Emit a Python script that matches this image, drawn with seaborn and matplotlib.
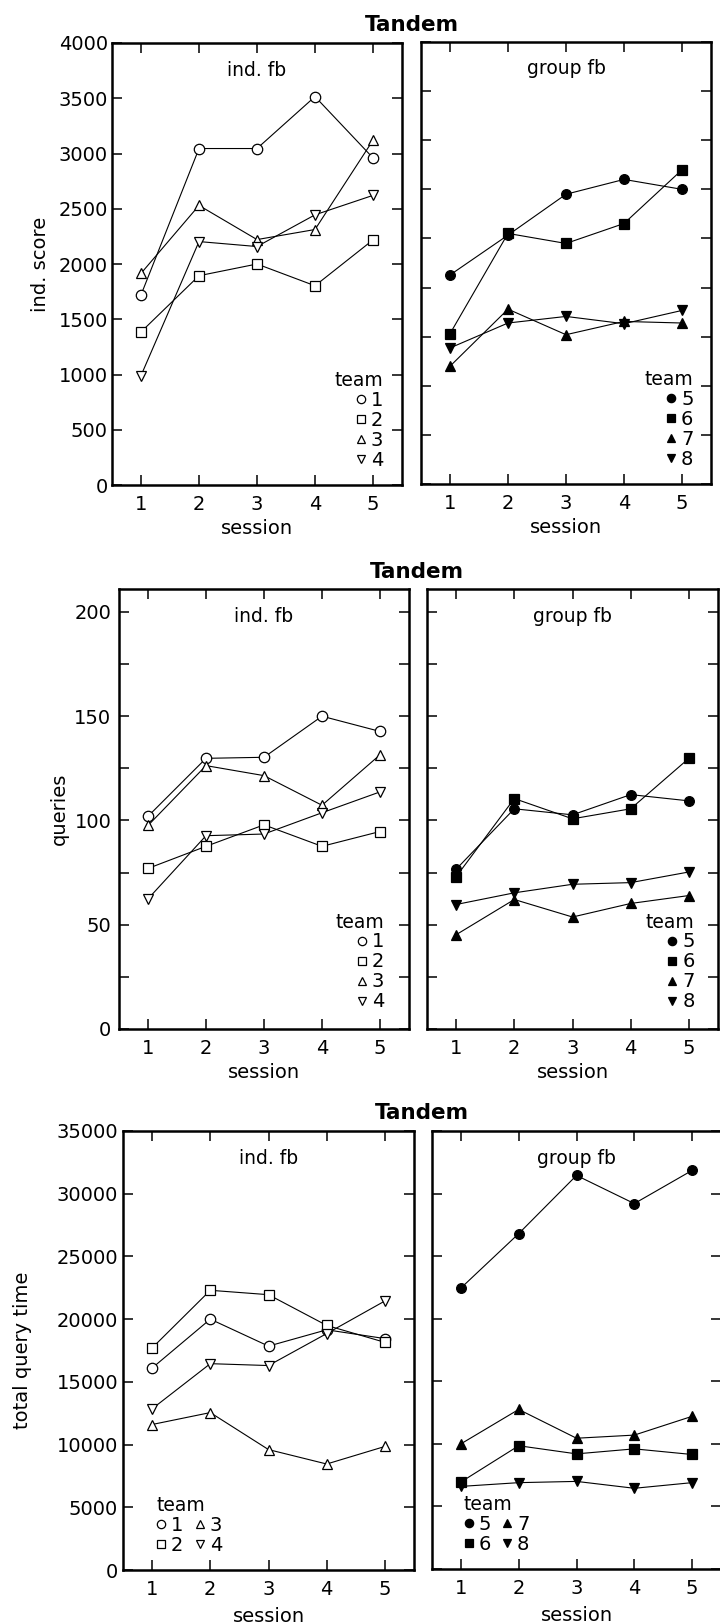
import pandas as pd
import matplotlib
matplotlib.use("Agg")
import matplotlib.pyplot as plt
import seaborn as sns
from matplotlib.lines import Line2D
from matplotlib.ticker import MultipleLocator

sns.set_style("ticks")
plt.rcParams['font.family'] = ['DejaVu Sans']
plt.rcParams['text.color'] = 'black'
plt.rcParams['axes.labelcolor'] = 'black'

sessions = [1, 2, 3, 4, 5]
teams_ind = ["1", "2", "3", "4"]
teams_grp = ["5", "6", "7", "8"]

# ind. score
score_1 = [1720, 3045, 3045, 3515, 2960]
score_2 = [1385, 1894, 2000, 1803, 2218]
score_3 = [1915, 2530, 2221, 2312, 3120]
score_4 = [990, 2203, 2158, 2445, 2621]
# group fb panel has its own (unlabelled) scale, 0-4500
score_5 = [2128, 2534, 2950, 3101, 3000]
score_6 = [1530, 2551, 2449, 2652, 3199]
score_7 = [1199, 1780, 1520, 1655, 1639]
score_8 = [1385, 1639, 1706, 1632, 1767]

# queries
queries_1 = [102, 129.8, 130.3, 150, 142.7]
queries_2 = [77, 87.6, 97.9, 87.6, 94.7]
queries_3 = [97.6, 126.3, 121.5, 107.3, 131.5]
queries_4 = [62.4, 92.7, 93.5, 103.7, 113.7]
queries_5 = [76.6, 105.6, 102.7, 112.4, 109.4]
queries_6 = [73, 110.5, 100.8, 105.6, 129.8]
queries_7 = [45.2, 62.1, 53.7, 60.2, 64]
queries_8 = [59.7, 65.3, 69.4, 70.2, 75.3]

# total query time
qtime_1 = [16100, 20000, 17850, 19150, 18450]
qtime_2 = [17700, 22300, 21950, 19500, 18150]
qtime_3 = [11600, 12550, 9600, 8450, 9850]
qtime_4 = [12850, 16450, 16300, 18850, 21450]
qtime_5 = [22450, 26800, 31450, 29200, 31850]
qtime_6 = [6950, 9850, 9200, 9600, 9150]
qtime_7 = [10000, 12750, 10450, 10700, 12200]
qtime_8 = [6600, 6900, 7000, 6450, 6900]

markers = {"1": "o", "2": "s", "3": "^", "4": "v",
           "5": "o", "6": "s", "7": "^", "8": "v"}


def long_df(teams, series):
    rows = []
    for t, vals in zip(teams, series):
        for s, v in zip(sessions, vals):
            rows.append({"session": s, "team": t, "value": v})
    return pd.DataFrame(rows)


W, H = 720, 1623
fig = plt.figure(figsize=(W / 100, H / 100), dpi=100)


def box(x0, y_top, w, h):
    return [x0 / W, 1 - (y_top + h) / H, w / W, h / H]


def draw(ax, df, teams, filled, ylim, major, minor, show_labels, ylabel=None,
         label_x=None, ypad=3.5, legend_anchor=None, legend_loc="lower right",
         ncol=1, align="right", xlabelpad=4):
    face = "black" if filled else "white"
    sns.lineplot(data=df, x="session", y="value", style="team", style_order=teams,
                 markers=markers, dashes=False, color="black", linewidth=0.8,
                 markersize=7.5 if not filled else 7, mfc=face, mec="black", mew=0.9,
                 legend=False, ax=ax, sort=True)
    ax.set_xlim(0.5, 5.5)
    ax.set_ylim(*ylim)
    ax.set_xticks(sessions)
    ax.yaxis.set_major_locator(MultipleLocator(major))
    if minor:
        ax.yaxis.set_minor_locator(MultipleLocator(minor))
    ax.tick_params(which="both", direction="in", top=True, right=True,
                   length=7, width=1.1, labelsize=14, colors="black")
    ax.tick_params(axis="x", pad=7)
    ax.tick_params(axis="y", pad=ypad, labelleft=show_labels)
    for sp in ax.spines.values():
        sp.set_linewidth(1.8)
        sp.set_color("black")
    ax.set_xlabel("session", fontsize=14, labelpad=xlabelpad)
    if ylabel:
        ax.set_ylabel(ylabel, fontsize=14)
        ax.yaxis.set_label_coords(label_x, 0.5)
    else:
        ax.set_ylabel("")
    handles = [Line2D([], [], linestyle="none", marker=markers[t], markersize=6,
                      mfc=face, mec="black", mew=0.9) for t in teams]
    leg = ax.legend(handles, teams, title="team", loc=legend_loc,
                    bbox_to_anchor=legend_anchor, frameon=False, ncol=ncol,
                    handlelength=0.5, handletextpad=0.25, labelspacing=0.05,
                    columnspacing=0.6, borderpad=0, borderaxespad=0,
                    fontsize=14, title_fontsize=13.5, alignment=align)
    return leg


def subtitle(ax, text):
    ax.text(0.5, 1 - 27 / ax.bbox.height * (fig.dpi / 100), text,
            transform=ax.transAxes, ha="center", va="center", fontsize=13.5)


# panel 1: ind. score
ax1 = fig.add_axes(box(112, 43, 290, 442))
ax2 = fig.add_axes(box(421, 42, 290, 442))
draw(ax1, long_df(teams_ind, [score_1, score_2, score_3, score_4]), teams_ind, False,
     (0, 4000), 500, None, True, "ind. score", -0.213, 3,
     legend_anchor=(0.935, 0.034))
draw(ax2, long_df(teams_grp, [score_5, score_6, score_7, score_8]), teams_grp, True,
     (0, 4500), 500, None, False, legend_anchor=(0.94, 0.034))

# panel 2: queries
ax3 = fig.add_axes(box(119, 589, 290, 440))
ax4 = fig.add_axes(box(427, 589, 291, 440))
draw(ax3, long_df(teams_ind, [queries_1, queries_2, queries_3, queries_4]), teams_ind, False,
     (0, 211), 50, 25, True, "queries", -0.173, 5.5,
     legend_anchor=(0.915, 0.04))
draw(ax4, long_df(teams_grp, [queries_5, queries_6, queries_7, queries_8]), teams_grp, True,
     (0, 211), 25, None, False, legend_anchor=(0.92, 0.04))

# panel 3: total query time
ax5 = fig.add_axes(box(123, 1131, 291, 439))
ax6 = fig.add_axes(box(432, 1131, 289, 438))
draw(ax5, long_df(teams_ind, [qtime_1, qtime_2, qtime_3, qtime_4]), teams_ind, False,
     (0, 35000), 5000, None, True, "total query time", -0.313, 3.5,
     legend_anchor=(0.115, 0.034), legend_loc="lower left", ncol=2, align="left",
     xlabelpad=6)
draw(ax6, long_df(teams_grp, [qtime_5, qtime_6, qtime_7, qtime_8]), teams_grp, True,
     (0, 35000), 5000, None, False,
     legend_anchor=(0.11, 0.034), legend_loc="lower left", ncol=2, align="left",
     xlabelpad=6)

for ax in (ax1, ax3, ax5):
    subtitle(ax, "ind. fb")
for ax in (ax2, ax4, ax6):
    subtitle(ax, "group fb")

for x, y in [(412, 25), (417, 572), (422, 1113)]:
    fig.text(x / W, 1 - y / H, "Tandem", ha="center", va="center",
             fontsize=15.5, fontweight="bold")

fig.savefig("out.png", dpi=100)
